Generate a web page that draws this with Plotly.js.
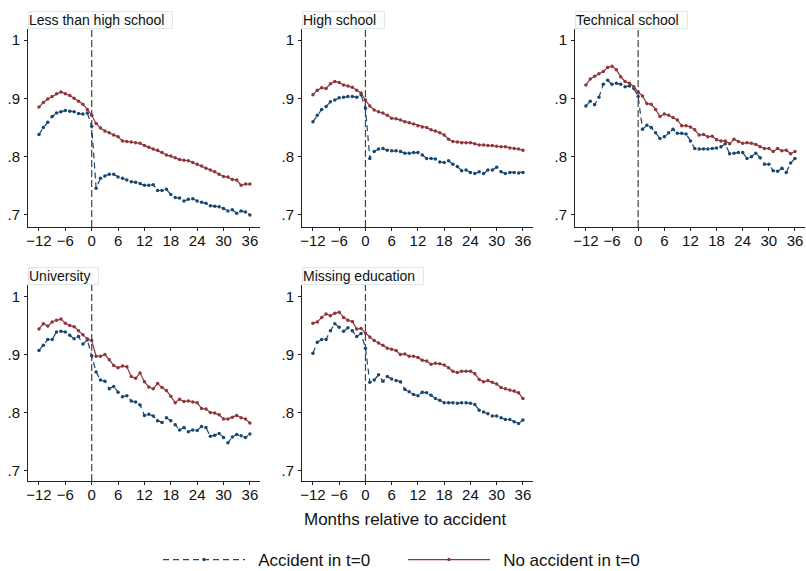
<!DOCTYPE html>
<html>
<head>
<meta charset="utf-8">
<script src="https://cdn.plot.ly/plotly-3.0.1.min.js"></script>
<style>
  html, body { margin: 0; padding: 0; background: #ffffff; }
  #chart { width: 806px; height: 571px; }
</style>
</head>
<body>
<div id="chart"></div>
<script>
// Months relative to accident
const months = [];
for (let m = -12; m <= 36; m++) months.push(m);

const panelTitles = ["Less than high school", "High school", "Technical school", "University", "Missing education"];

const seriesNames = ["Accident in t=0", "No accident in t=0"];

// Accident in t=0 (blue, dashed)
const lessHS_acc = [0.838,0.850,0.859,0.869,0.875,0.877,0.879,0.878,0.877,0.874,0.873,0.875,0.852,
  0.746,0.763,0.767,0.770,0.770,0.765,0.763,0.760,0.757,0.756,0.754,0.751,0.751,0.752,0.742,0.742,0.744,
  0.735,0.730,0.729,0.724,0.727,0.728,0.724,0.722,0.720,0.716,0.715,0.714,0.711,0.707,0.709,0.703,0.707,0.705,0.700];
const highS_acc = [0.860,0.871,0.881,0.886,0.894,0.897,0.901,0.902,0.903,0.903,0.902,0.906,0.883,
  0.797,0.809,0.813,0.814,0.811,0.810,0.810,0.809,0.806,0.806,0.807,0.807,0.803,0.797,0.797,0.796,0.791,
  0.790,0.793,0.787,0.783,0.776,0.777,0.773,0.771,0.774,0.771,0.777,0.777,0.782,0.774,0.771,0.773,0.773,0.772,0.773];
const tech_acc = [0.887,0.895,0.889,0.902,0.924,0.931,0.924,0.926,0.924,0.920,0.921,0.917,0.903,
  0.847,0.854,0.850,0.841,0.831,0.834,0.841,0.847,0.840,0.840,0.839,0.827,0.814,0.813,0.813,0.813,0.814,
  0.815,0.817,0.822,0.805,0.806,0.807,0.807,0.797,0.800,0.806,0.798,0.787,0.787,0.776,0.775,0.780,0.773,0.789,0.797];
const univ_acc = [0.907,0.916,0.926,0.926,0.939,0.940,0.939,0.933,0.927,0.931,0.918,0.925,0.898,
  0.870,0.856,0.854,0.841,0.845,0.835,0.827,0.829,0.820,0.818,0.813,0.795,0.797,0.794,0.786,0.783,0.791,
  0.786,0.779,0.770,0.774,0.767,0.770,0.769,0.776,0.774,0.759,0.761,0.764,0.757,0.748,0.758,0.762,0.760,0.757,0.763];
const miss_acc = [0.902,0.921,0.926,0.926,0.941,0.953,0.947,0.940,0.946,0.941,0.931,0.936,0.911,
  0.852,0.856,0.865,0.854,0.862,0.858,0.855,0.853,0.840,0.836,0.831,0.829,0.835,0.834,0.830,0.824,0.821,
  0.817,0.817,0.817,0.816,0.817,0.817,0.816,0.814,0.804,0.801,0.798,0.794,0.794,0.791,0.788,0.788,0.784,0.781,0.787];

// No accident in t=0 (red, solid)
const lessHS_no = [0.885,0.893,0.899,0.903,0.908,0.911,0.908,0.905,0.900,0.895,0.890,0.881,0.871,
  0.857,0.849,0.844,0.841,0.837,0.834,0.827,0.826,0.825,0.824,0.823,0.819,0.816,0.813,0.811,0.807,0.803,
  0.801,0.798,0.795,0.794,0.793,0.790,0.787,0.784,0.780,0.777,0.774,0.770,0.766,0.765,0.761,0.760,0.751,0.753,0.753];
const highS_no = [0.906,0.914,0.918,0.917,0.925,0.929,0.927,0.923,0.921,0.919,0.914,0.909,0.897,
  0.887,0.880,0.877,0.875,0.871,0.866,0.865,0.863,0.860,0.858,0.856,0.853,0.851,0.850,0.846,0.844,0.841,
  0.837,0.830,0.826,0.825,0.824,0.824,0.824,0.822,0.820,0.820,0.819,0.819,0.818,0.817,0.817,0.815,0.814,0.813,0.811];
const tech_no = [0.923,0.933,0.938,0.942,0.946,0.953,0.955,0.949,0.937,0.929,0.926,0.920,0.911,
  0.904,0.891,0.890,0.881,0.869,0.873,0.871,0.867,0.863,0.853,0.853,0.851,0.846,0.837,0.838,0.834,0.835,
  0.829,0.827,0.827,0.822,0.830,0.826,0.823,0.824,0.823,0.821,0.817,0.814,0.814,0.809,0.814,0.810,0.811,0.805,0.809];
const univ_no = [0.944,0.953,0.949,0.956,0.959,0.961,0.954,0.950,0.948,0.941,0.934,0.927,0.924,
  0.897,0.897,0.900,0.891,0.881,0.877,0.880,0.879,0.862,0.859,0.868,0.853,0.844,0.841,0.850,0.843,0.838,
  0.828,0.817,0.823,0.819,0.820,0.818,0.817,0.807,0.806,0.800,0.799,0.796,0.789,0.789,0.792,0.795,0.791,0.789,0.782];
const miss_no = [0.954,0.956,0.964,0.970,0.967,0.971,0.973,0.964,0.959,0.957,0.944,0.945,0.937,
  0.930,0.924,0.920,0.916,0.911,0.909,0.907,0.900,0.901,0.897,0.897,0.895,0.890,0.889,0.883,0.885,0.884,
  0.882,0.877,0.871,0.869,0.871,0.871,0.871,0.867,0.857,0.853,0.855,0.852,0.849,0.843,0.841,0.839,0.837,0.834,0.824];

const xTickVals = [-12, -6, 0, 6, 12, 18, 24, 30, 36];
const xTickText = ["\u221212", "\u22126", "0", "6", "12", "18", "24", "30", "36"];
const yTickVals = [0.7, 0.8, 0.9, 1];
const yTickText = [".7", ".8", ".9", "1"];

const accSeries = [lessHS_acc, highS_acc, tech_acc, univ_acc, miss_acc];
const noSeries = [lessHS_no, highS_no, tech_no, univ_no, miss_no];

const BLUE = "#1a476f";
const RED = "#90353b";
const FONT = "Liberation Sans, Arial, Helvetica, sans-serif";
const W = 806, H = 571;
const LEGEND_PAD = "\u00a0\u2009";

// panel geometry in pixels [left, right, top, bottom]
const panelBoxes = [
  [28, 260, 29, 227],
  [302, 533, 29, 227],
  [575, 805, 29, 227],
  [28, 260, 285, 481],
  [302, 533, 285, 481]
];

const traces = [];
const layout = {
  width: W, height: H,
  margin: {l: 0, r: 0, t: 0, b: 0, autoexpand: false},
  paper_bgcolor: "#ffffff",
  plot_bgcolor: "#ffffff",
  font: {family: FONT, size: 14, color: "#111"},
  showlegend: true,
  legend: {
    orientation: "h",
    x: 0.5, xanchor: "center",
    y: (H - 560) / H, yanchor: "middle",
    font: {family: FONT, size: 17, color: "#111"},
    itemwidth: 82,
    entrywidth: 148,
    bgcolor: "rgba(0,0,0,0)"
  },
  shapes: [],
  annotations: []
};

panelTitles.forEach((title, i) => {
  const n = i + 1;
  const xa = n === 1 ? "x" : "x" + n;
  const ya = n === 1 ? "y" : "y" + n;
  const xk = n === 1 ? "xaxis" : "xaxis" + n;
  const yk = n === 1 ? "yaxis" : "yaxis" + n;
  const b = panelBoxes[i];
  const topRow = i < 3;
  layout[xk] = {
    domain: [b[0] / W, b[1] / W],
    anchor: ya,
    range: [-14.5, 38.3],
    tickvals: xTickVals, ticktext: xTickText,
    ticks: "outside", ticklen: 3, tickwidth: 1, tickcolor: "#222",
    ticklabelstandoff: -3,
    showline: true, linecolor: "#222", linewidth: 1,
    showgrid: false, zeroline: false,
    tickfont: {family: FONT, size: 15, color: "#111"}
  };
  layout[yk] = {
    domain: [1 - b[3] / H, 1 - b[2] / H],
    anchor: xa,
    range: topRow ? [0.6794, 1.0189] : [0.682, 1.0198],
    tickvals: yTickVals, ticktext: yTickText,
    ticks: "outside", ticklen: 3, tickwidth: 1, tickcolor: "#222",
    ticklabelstandoff: 1,
    showline: true, linecolor: "#222", linewidth: 1,
    showgrid: false, zeroline: false,
    tickfont: {family: FONT, size: 15, color: "#111"}
  };
  traces.push({
    x: months, y: accSeries[i], xaxis: xa, yaxis: ya,
    type: "scatter", mode: "lines+markers",
    name: LEGEND_PAD + seriesNames[0], legendgroup: "acc", showlegend: i === 0,
    line: {color: BLUE, width: 1.2, dash: "6px,4px"},
    marker: {color: BLUE, size: 3.5}
  });
  traces.push({
    x: months, y: noSeries[i], xaxis: xa, yaxis: ya,
    type: "scatter", mode: "lines+markers",
    name: LEGEND_PAD + seriesNames[1], legendgroup: "no", showlegend: i === 0,
    line: {color: RED, width: 1.2},
    marker: {color: RED, size: 3.5}
  });
  layout.shapes.push({
    type: "line", xref: xa, yref: ya + " domain",
    x0: 0, x1: 0, y0: 0, y1: 1,
    line: {color: "#444", width: 1.2, dash: "7px,3px"}
  });
  layout.annotations.push({
    xref: xa + " domain", yref: ya + " domain",
    x: 0, y: 1, xanchor: "left", yanchor: "bottom",
    text: title + "\u00a0\u00a0", showarrow: false, align: "left",
    font: {family: FONT, size: 14, color: "#111"},
    bgcolor: "#fbfdfd", bordercolor: "#dfe9e9", borderwidth: 1, borderpad: 0
  });
});

layout.annotations.push({
  xref: "paper", yref: "paper",
  x: 405 / W, y: (H - 519) / H, xanchor: "center", yanchor: "middle",
  text: "Months relative to accident", showarrow: false,
  font: {family: FONT, size: 17, color: "#111"}
});

Plotly.newPlot("chart", traces, layout, {displayModeBar: false, responsive: false});
</script>
</body>
</html>
